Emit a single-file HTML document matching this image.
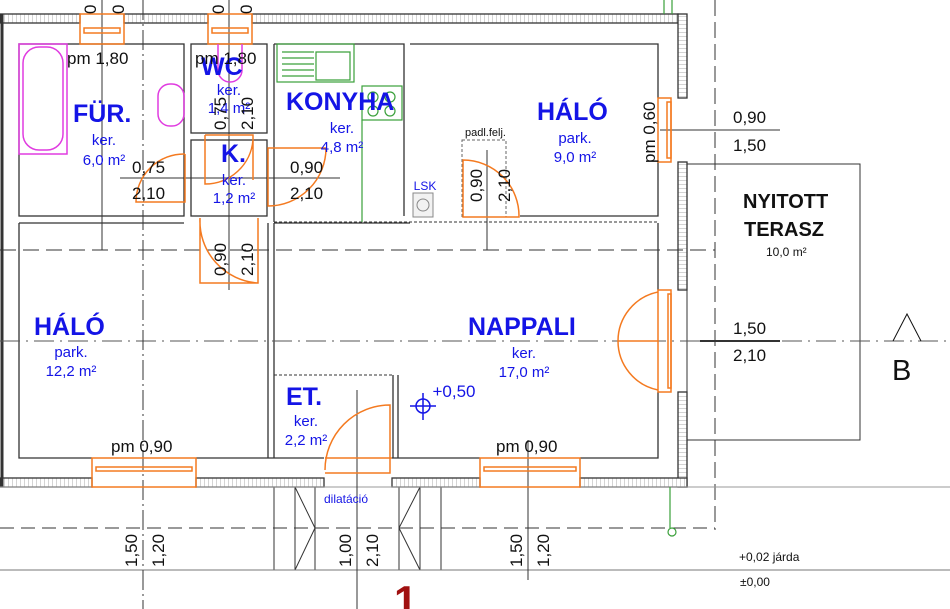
<!DOCTYPE html>
<html><head><meta charset="utf-8"><style>
body{margin:0;background:#fff}
svg{display:block}
text{font-family:"Liberation Sans",sans-serif}
.b{fill:#1414e6}
.bl{fill:#111}
</style></head><body>
<svg width="950" height="609" viewBox="0 0 950 609" xmlns="http://www.w3.org/2000/svg">
<defs>
<pattern id="h" width="4" height="4" patternUnits="userSpaceOnUse"><rect width="4" height="4" fill="#fff"/><path d="M0 0V4" stroke="#aaa" stroke-width="1"/></pattern>
<pattern id="hv" width="4" height="4" patternUnits="userSpaceOnUse"><rect width="4" height="4" fill="#fff"/><path d="M0 0H4" stroke="#aaa" stroke-width="1"/></pattern>
</defs>
<g fill="none" stroke="#333" stroke-width="1.3">
<rect x="0" y="14" width="80" height="9" fill="url(#h)"/>
<rect x="124" y="14" width="84" height="9" fill="url(#h)"/>
<rect x="252" y="14" width="426" height="9" fill="url(#h)"/>
<rect x="678" y="14" width="9" height="84" fill="url(#hv)"/>
<rect x="678" y="162" width="9" height="128" fill="url(#hv)"/>
<rect x="678" y="392" width="9" height="95" fill="url(#hv)"/>
<rect x="0" y="478" width="92" height="9" fill="url(#h)"/>
<rect x="196" y="478" width="128" height="9" fill="url(#h)"/>
<rect x="392" y="478" width="88" height="9" fill="url(#h)"/>
<rect x="580" y="478" width="107" height="9" fill="url(#h)"/>
<line x1="2" y1="14" x2="2" y2="487" stroke-width="3"/>
<rect x="19" y="44" width="165" height="172"/>
<rect x="191" y="44" width="76" height="89"/>
<rect x="191" y="140" width="76" height="76"/>
<path d="M274 44 H404 V216"/>
<path d="M274 44 V222 M268 223 V458"/>
<path d="M410 44 H658 V98 M658 162 V216 H520"/>
<path d="M19 223 H184 M19 223 V458 H92 M196 458 H324 M392 458 H480 M580 458 H658 V392 M658 290 V223"/>
<path d="M274 223 V458 M274 223 H410"/>
<path d="M393 375 V458 M398 375 V458"/>
<path d="M274 222 H658" stroke-dasharray="3 2" stroke-width="1"/>
<path d="M274 375 H393" stroke-dasharray="3 2" stroke-width="1"/>
<rect x="687" y="164" width="173" height="276" stroke-width="1"/>
<path d="M274 487 V570 H441 V487 M295 487 V570 M315 487 V570 M399 487 V570 M420 487 V570 M295 487 L315 528 L295 570 M420 487 L399 528 L420 570" stroke-width="1"/>
</g>
<g stroke="#333" fill="none" stroke-width="1">
<line x1="0" y1="528" x2="715" y2="528" stroke-dasharray="14 7"/>
<line x1="715" y1="0" x2="715" y2="530" stroke-dasharray="16 6"/>
<line x1="0" y1="250" x2="715" y2="250" stroke-dasharray="16 7"/>
<line x1="0" y1="341" x2="950" y2="341" stroke-dasharray="20 6 2 6" stroke="#555"/>
<line x1="0" y1="570" x2="950" y2="570" stroke="#777"/>
<line x1="0" y1="487" x2="950" y2="487" stroke="#999"/>
<line x1="143" y1="0" x2="143" y2="609" stroke-dasharray="20 4 2 4"/>
<line x1="102" y1="0" x2="102" y2="250"/>
<line x1="229" y1="0" x2="229" y2="290"/>
<line x1="357" y1="390" x2="357" y2="609"/>
<line x1="487" y1="150" x2="487" y2="250"/>
<line x1="528" y1="440" x2="528" y2="580"/>
<line x1="120" y1="178" x2="340" y2="178"/>
<line x1="660" y1="130" x2="780" y2="130"/>
<line x1="700" y1="341" x2="780" y2="341" stroke-width="2"/>
<path d="M893 341 L907 314 L921 341" stroke="#111"/>
<rect x="462" y="140" width="44" height="77" stroke-dasharray="3 2" stroke="#666"/>
</g>
<g fill="none" stroke="#f47a20" stroke-width="1.5">
<rect x="80" y="14" width="44" height="30"/><rect x="84" y="28" width="36" height="5"/>
<rect x="208" y="14" width="44" height="30"/><rect x="212" y="28" width="36" height="5"/>
<rect x="92" y="458" width="104" height="29"/><rect x="96" y="467" width="96" height="4"/>
<rect x="480" y="458" width="100" height="29"/><rect x="484" y="467" width="92" height="4"/>
<rect x="658" y="98" width="13" height="64"/><rect x="667" y="102" width="4" height="56"/>
<rect x="658" y="290" width="13" height="102"/><rect x="668" y="294" width="3" height="94"/>
<path d="M185 154 V202 H136 A48 48 0 0 1 185 154"/>
<path d="M268 148 V206 A58 58 0 0 0 326 148 Z"/>
<path d="M205 135 H253 V180 M205 135 V184 A48 48 0 0 0 253 140"/>
<path d="M200 218 V283 H258 V218 M200 218 A62 62 0 0 0 258 283"/>
<path d="M463 217 V160 A56 56 0 0 1 519 217 Z"/>
<path d="M325 473 H390 V405 A65 65 0 0 0 325 470 M325 458 H392"/>
<path d="M658 292 A50 50 0 0 0 618 341 M618 341 H658 M658 390 A50 50 0 0 1 618 341"/>
</g>
<g fill="none" stroke="#e03ce0" stroke-width="1.5">
<rect x="19" y="44" width="48" height="110"/><rect x="23" y="47" width="40" height="103" rx="16"/>
<rect x="158" y="84" width="26" height="42" rx="12"/>
<path d="M218 44 V70 A12 12 0 0 0 242 70 V44"/>
</g>
<g fill="none" stroke="#3aa03a" stroke-width="1.2">
<rect x="277" y="44" width="77" height="38"/><path d="M282 52 H314 M282 58 H314 M282 64 H314 M282 70 H314 M282 76 H314 M316 52 H350 V80 H316Z"/>
<rect x="362" y="86" width="40" height="34"/><circle cx="373" cy="97" r="5"/><circle cx="390" cy="97" r="5"/><circle cx="373" cy="111" r="5"/><circle cx="390" cy="111" r="5"/>
<path d="M362 120 V222"/>
<path d="M664 0 V14 M672 0 V14 M670 487 V528"/><circle cx="672" cy="532" r="4"/>
</g>
<rect x="413" y="193" width="20" height="24" fill="#f2f2f2" stroke="#888"/><circle cx="423" cy="205" r="6" fill="none" stroke="#888"/>
<g stroke="#1414e6" stroke-width="1.5" fill="none"><circle cx="423" cy="406" r="7"/><path d="M410 406 H436 M423 393 V420"/></g>
<g class="b" font-weight="bold" font-size="25">
<text x="73" y="122">FÜR.</text>
<text x="201" y="75">WC</text>
<text x="221" y="162">K.</text>
<text x="286" y="110">KONYHA</text>
<text x="537" y="120">HÁLÓ</text>
<text x="34" y="335">HÁLÓ</text>
<text x="468" y="335">NAPPALI</text>
<text x="286" y="405">ET.</text>
</g>
<g class="b" font-size="15" text-anchor="middle">
<text x="104" y="145">ker.</text><text x="104" y="165">6,0 m²</text>
<text x="229" y="95">ker.</text><text x="229" y="113">1,4 m²</text>
<text x="234" y="185">ker.</text><text x="234" y="203">1,2 m²</text>
<text x="342" y="133">ker.</text><text x="342" y="152">4,8 m²</text>
<text x="575" y="143">park.</text><text x="575" y="162">9,0 m²</text>
<text x="71" y="357">park.</text><text x="71" y="376">12,2 m²</text>
<text x="524" y="358">ker.</text><text x="524" y="377">17,0 m²</text>
<text x="306" y="426">ker.</text><text x="306" y="445">2,2 m²</text>
<text x="425" y="190" font-size="12">LSK</text>
<text x="346" y="503" font-size="12">dilatáció</text>
<text x="454" y="397" font-size="17">+0,50</text>
</g>
<g class="bl" font-size="17">
<text x="67" y="64">pm 1,80</text>
<text x="195" y="64">pm 1,80</text>
<text x="132" y="173">0,75</text><text x="132" y="199">2,10</text>
<text x="290" y="173">0,90</text><text x="290" y="199">2,10</text>
<text x="733" y="123">0,90</text><text x="733" y="151">1,50</text>
<text x="733" y="334">1,50</text><text x="733" y="361">2,10</text>
<text x="111" y="452">pm 0,90</text>
<text x="496" y="452">pm 0,90</text>
<text x="465" y="136" font-size="11">padl.felj.</text>
<text x="743" y="208" font-weight="bold" font-size="20">NYITOTT</text>
<text x="744" y="236" font-weight="bold" font-size="20">TERASZ</text>
<text x="766" y="256" font-size="12">10,0 m²</text>
<text x="739" y="561" font-size="12">+0,02  járda</text>
<text x="740" y="586" font-size="12">±0,00</text>
<text x="892" y="380" font-size="29">B</text>
<text x="394" y="615" font-size="42" font-weight="bold" fill="#a01010">1</text>
</g>
<g class="bl" font-size="17">
<text transform="translate(226,130) rotate(-90)">0,75</text>
<text transform="translate(253,130) rotate(-90)">2,10</text>
<text transform="translate(226,276) rotate(-90)">0,90</text>
<text transform="translate(253,276) rotate(-90)">2,10</text>
<text transform="translate(482,202) rotate(-90)">0,90</text>
<text transform="translate(510,202) rotate(-90)">2,10</text>
<text transform="translate(655,163) rotate(-90)">pm 0,60</text>
<text transform="translate(137,567) rotate(-90)">1,50</text>
<text transform="translate(164,567) rotate(-90)">1,20</text>
<text transform="translate(351,567) rotate(-90)">1,00</text>
<text transform="translate(378,567) rotate(-90)">2,10</text>
<text transform="translate(522,567) rotate(-90)">1,50</text>
<text transform="translate(549,567) rotate(-90)">1,20</text>
<text transform="translate(96,14) rotate(-90)">0</text>
<text transform="translate(124,14) rotate(-90)">0</text>
<text transform="translate(224,14) rotate(-90)">0</text>
<text transform="translate(252,14) rotate(-90)">0</text>
</g>
</svg>
</body></html>
